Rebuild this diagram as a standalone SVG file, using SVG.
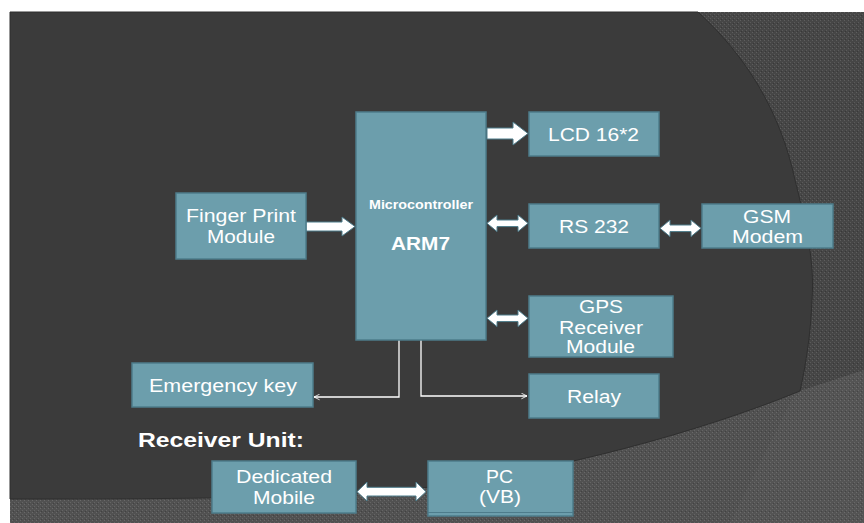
<svg xmlns="http://www.w3.org/2000/svg" width="864" height="523" viewBox="0 0 864 523">
<defs>
<pattern id="dotsA" width="4" height="4" patternUnits="userSpaceOnUse">
<rect width="4" height="4" fill="#464646"/>
<rect x="0" y="0" width="1" height="1" fill="#5e5e5e"/>
<rect x="2" y="2" width="1" height="1" fill="#5a5a5a"/>
<rect x="1" y="3" width="1" height="1" fill="#383838"/>
</pattern>
<pattern id="dotsB" width="4" height="4" patternUnits="userSpaceOnUse">
<rect width="4" height="4" fill="#545454"/>
<rect x="0" y="0" width="1" height="1" fill="#6c6c6c"/>
<rect x="2" y="2" width="1" height="1" fill="#686868"/>
<rect x="1" y="3" width="1" height="1" fill="#444444"/>
</pattern>
<marker id="open" viewBox="0 0 10 10" refX="9" refY="5" markerWidth="7" markerHeight="7" markerUnits="userSpaceOnUse" orient="auto">
<path d="M1,1 L9,5 L1,9" fill="none" stroke="#ffffff" stroke-width="1.2"/>
</marker>
</defs>
<style>
.box{fill:#6c9eac;stroke:#4d7c8b;stroke-width:1.5}
.t{font-family:"Liberation Sans",Arial,sans-serif;font-size:17.5px;fill:#ffffff}
.b{font-family:"Liberation Sans",Arial,sans-serif;font-weight:bold;fill:#ffffff}
.blk{fill:#ffffff;stroke:#4d7c8b;stroke-width:1}
.ln{fill:none;stroke:#ffffff;stroke-width:1.3}
</style>
<rect x="0" y="0" width="864" height="523" fill="#ffffff"/>
<rect x="10" y="12" width="854" height="511" fill="url(#dotsA)"/>
<path d="M864,370 C840,378 815,386 800,391 L793,397 L730,523 L864,523 Z" fill="url(#dotsB)"/>
<path d="M10,497 C200,499 330,498 430,487 C560,470 700,432 800,391 L864,372 L864,523 L10,523 Z" fill="url(#dotsB)" opacity="0.8"/>
<path d="M10,12 L698,12 C745,55 780,110 795,180 C805,220 815,260 812,300 C811,330 806,365 800,391 C700,432 560,470 430,487 C330,498 200,499 10,499 Z" fill="#3b3b3b" stroke="#2f2f2f" stroke-width="1"/>
<g id="connectors">
<path class="blk" d="M487,128 L513,128 L513,122 L528,133.5 L513,145 L513,139 L487,139 Z"/>
<path class="blk" d="M306,222 L342,222 L342,217 L355,226.5 L342,236 L342,231 L306,231 Z"/>
<path class="blk" d="M487,223.3 L497,215 L497,220 L518,220 L518,215 L528,223.3 L518,231.6 L518,226.6 L497,226.6 L497,231.6 Z"/>
<path class="blk" d="M487,318.3 L497,310 L497,315 L518,315 L518,310 L528,318.3 L518,326.6 L518,321.6 L497,321.6 L497,326.6 Z"/>
<path class="blk" d="M660,228.3 L670,220 L670,225 L691,225 L691,220 L701,228.3 L691,236.6 L691,231.6 L670,231.6 L670,236.6 Z"/>
<path class="blk" d="M357,491.7 L367,482 L367,487.3 L416,487.3 L416,482 L426,491.7 L416,501 L416,496 L367,496 L367,501 Z"/>
<path class="ln" d="M399,340 L399,397 L314,397" marker-end="url(#open)"/>
<path class="ln" d="M421,340 L421,396 L527,396" marker-end="url(#open)"/>
</g>
<g id="mcu">
<rect class="box" x="356" y="112" width="130" height="228"/>
<text class="b" x="369" y="209" font-size="12" textLength="104" lengthAdjust="spacingAndGlyphs">Microcontroller</text>
<text class="b" x="391" y="250" font-size="18" textLength="59" lengthAdjust="spacingAndGlyphs">ARM7</text>
</g>
<g id="lcd">
<rect class="box" x="529" y="112" width="130" height="44"/>
<text class="t" x="548" y="141" textLength="91" lengthAdjust="spacingAndGlyphs">LCD 16*2</text>
</g>
<g id="rs232">
<rect class="box" x="529" y="204" width="130" height="44"/>
<text class="t" x="559" y="233" textLength="70" lengthAdjust="spacingAndGlyphs">RS 232</text>
</g>
<g id="gsm">
<rect class="box" x="702" y="204" width="131" height="44"/>
<text class="t" x="743" y="223" textLength="48" lengthAdjust="spacingAndGlyphs">GSM</text>
<text class="t" x="732" y="243" textLength="71" lengthAdjust="spacingAndGlyphs">Modem</text>
</g>
<g id="gps">
<rect class="box" x="529" y="296" width="144" height="61"/>
<text class="t" x="579" y="313" textLength="44" lengthAdjust="spacingAndGlyphs">GPS</text>
<text class="t" x="559" y="334" textLength="84" lengthAdjust="spacingAndGlyphs">Receiver</text>
<text class="t" x="566" y="353" textLength="69" lengthAdjust="spacingAndGlyphs">Module</text>
</g>
<g id="finger">
<rect class="box" x="176" y="193" width="130" height="66"/>
<text class="t" x="186" y="222" textLength="110" lengthAdjust="spacingAndGlyphs">Finger Print</text>
<text class="t" x="207" y="243" textLength="68" lengthAdjust="spacingAndGlyphs">Module</text>
</g>
<g id="emergency">
<rect class="box" x="132" y="363" width="181" height="44"/>
<text class="t" x="149" y="392" textLength="148" lengthAdjust="spacingAndGlyphs">Emergency key</text>
</g>
<g id="relay">
<rect class="box" x="529" y="374" width="130" height="44"/>
<text class="t" x="567" y="403" textLength="54" lengthAdjust="spacingAndGlyphs">Relay</text>
</g>
<g id="receiver-title">
<text class="b" x="138" y="447" font-size="21" textLength="166" lengthAdjust="spacingAndGlyphs">Receiver Unit:</text>
</g>
<g id="mobile">
<rect class="box" x="212" y="461" width="144" height="52"/>
<text class="t" x="236" y="483" textLength="96" lengthAdjust="spacingAndGlyphs">Dedicated</text>
<text class="t" x="253" y="504" textLength="62" lengthAdjust="spacingAndGlyphs">Mobile</text>
</g>
<g id="pc">
<rect class="box" x="428" y="461" width="145" height="55"/>
<line x1="428" y1="512.5" x2="573" y2="512.5" stroke="#4d7c8b" stroke-width="1.2"/>
<text class="t" x="486" y="483" textLength="27" lengthAdjust="spacingAndGlyphs">PC</text>
<text class="t" x="479" y="503" textLength="42" lengthAdjust="spacingAndGlyphs">(VB)</text>
</g>
</svg>
